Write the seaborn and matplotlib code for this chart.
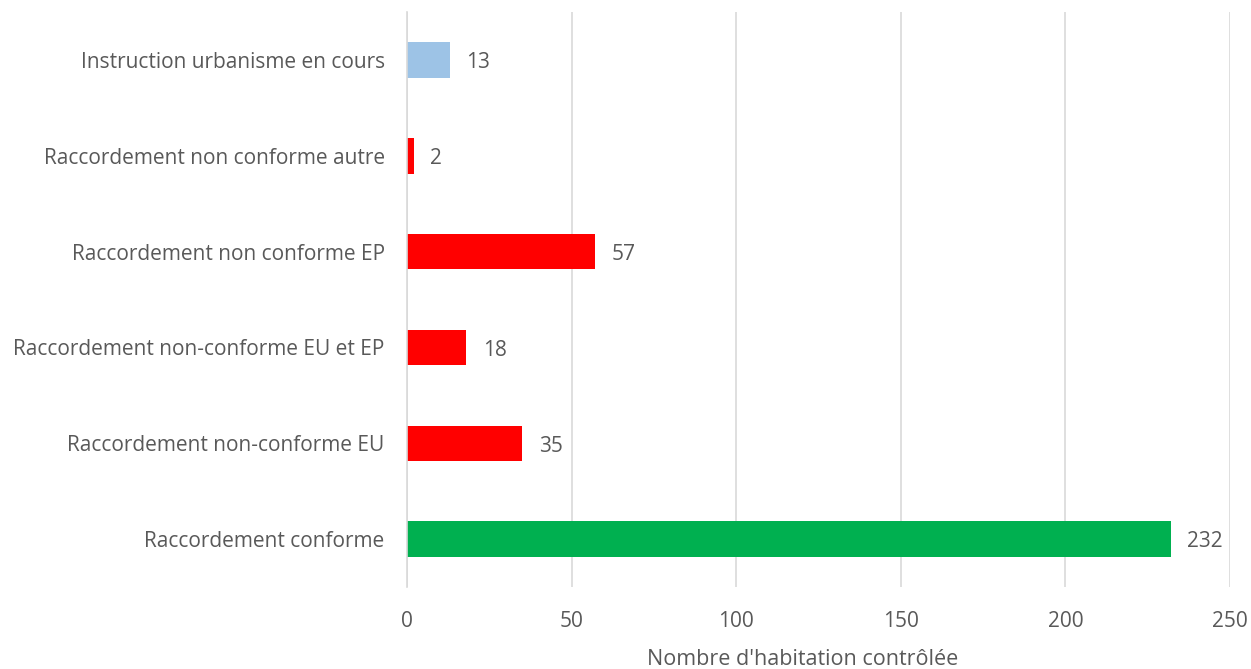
import matplotlib
matplotlib.use("Agg")
import matplotlib.pyplot as plt
import seaborn as sns
import pandas as pd

categories = [
    "Instruction urbanisme en cours",
    "Raccordement non conforme autre",
    "Raccordement non conforme EP",
    "Raccordement non-conforme EU et EP",
    "Raccordement non-conforme EU",
    "Raccordement conforme",
]
values = [13, 2, 57, 18, 35, 232]
colors = ["#9DC3E6", "#FF0000", "#FF0000", "#FF0000", "#FF0000", "#00B050"]
xticks = [0, 50, 100, 150, 200, 250]
xlabel = "Nombre d'habitation contrôlée"

sns.set_theme(style="white")
plt.rcParams["font.family"] = ["Open Sans", "DejaVu Sans"]
text_color = "#595959"
grid_color = "#D9D9D9"

df = pd.DataFrame({"cat": categories, "val": values})

fig = plt.figure(figsize=(12.51, 6.69), dpi=100)
ax = fig.add_axes([0.3253, 0.1226, 0.6579, 0.8594])

sns.barplot(data=df, x="val", y="cat", hue="cat", palette=colors,
            order=categories, hue_order=categories, orient="h",
            width=0.37, legend=False, saturation=1, linewidth=0, ax=ax)

for c in ax.containers:
    for ann in ax.bar_label(c, padding=12, fontsize=15, color=text_color):
        ann.xyann = (12, -2)

ax.set_xlim(0, 250)
ax.set_xticks(xticks)
ax.set_xticklabels([str(t) for t in xticks])
ax.set_ylim(len(categories) - 0.5, -0.5)
ax.xaxis.grid(True, color=grid_color, linewidth=1.2)
ax.yaxis.grid(False)
ax.set_axisbelow(True)
for s in ["top", "right", "bottom"]:
    ax.spines[s].set_visible(False)
ax.spines["left"].set_color(grid_color)
ax.spines["left"].set_linewidth(1.2)

ax.tick_params(axis="x", length=0, pad=17, labelsize=15, labelcolor=text_color)
ax.tick_params(axis="y", length=0, pad=16, labelsize=15, labelcolor=text_color)
ax.set_ylabel("")
ax.set_xlabel(xlabel, fontsize=15.5, color=text_color)
ax.xaxis.set_label_coords(0.481, -0.108)

fig.savefig("out.png", dpi=100)
